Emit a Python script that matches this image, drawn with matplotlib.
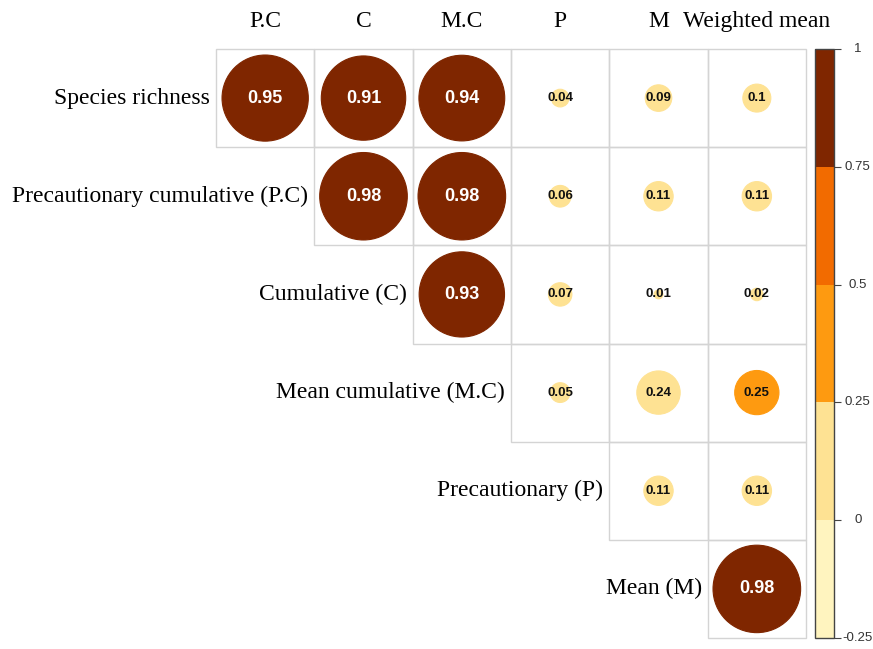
import numpy as np
import matplotlib
matplotlib.use("Agg")
import matplotlib.pyplot as plt
from matplotlib.patches import Circle, Rectangle
from matplotlib.colors import ListedColormap, BoundaryNorm
from matplotlib.cm import ScalarMappable

# Row / column names of the upper-triangle correlation plot
row_labels = ["Species richness", "Precautionary cumulative (P.C)", "Cumulative (C)",
              "Mean cumulative (M.C)", "Precautionary (P)", "Mean (M)"]
col_labels = ["P.C", "C", "M.C", "P", "M", "Weighted mean"]

# correlations, row i starts at column i
corr_rows = [
    [0.95, 0.91, 0.94, 0.04, 0.09, 0.10],
    [0.98, 0.98, 0.06, 0.11, 0.11],
    [0.93, 0.07, 0.01, 0.02],
    [0.05, 0.24, 0.25],
    [0.11, 0.11],
    [0.98],
]

# colour legend bins
bin_edges = [-0.25, 0, 0.25, 0.5, 0.75, 1]
bin_colors = ["#FFF4BF", "#FEE293", "#FE9A10", "#F26B00", "#7F2600"]
tick_labels = ["-0.25", "0", "0.25", "0.5", "0.75", "1"]

W, H = 873, 649
fig = plt.figure(figsize=(W / 100, H / 100), dpi=100)

# main grid area in pixels: x 216..806, y 49..638
ax = fig.add_axes([216 / W, (H - 638) / H, 590 / W, 589 / H])
ax.set_xlim(0, 6)
ax.set_ylim(6, 0)
ax.axis("off")

cmap = ListedColormap(bin_colors)
norm = BoundaryNorm(bin_edges, cmap.N)

for i, row in enumerate(corr_rows):
    for k, r in enumerate(row):
        j = i + k
        ax.add_patch(Rectangle((j, i), 1, 1, facecolor="none", edgecolor="#D4D4D4",
                               lw=1, clip_on=False))
        col = cmap(norm(r))
        ax.add_patch(Circle((j + 0.5, i + 0.5), 0.45 * np.sqrt(abs(r)),
                            facecolor=col, edgecolor=col, lw=0.8))
        dark = r >= 0.75
        ax.text(j + 0.5, i + 0.5, f"{r:g}", ha="center", va="center",
                family="Liberation Sans", fontweight="bold",
                fontsize=13 if dark else 9.5,
                color="white" if dark else "#111111")

serif = "Liberation Serif"
for i, lab in enumerate(row_labels):
    ax.text(i - 0.06, i + 0.5, lab, ha="right", va="center", family=serif,
            fontsize=17, color="black", clip_on=False)
for j, lab in enumerate(col_labels):
    ax.text(j + 0.5, -0.22, lab, ha="center", va="baseline", family=serif,
            fontsize=17, color="black", clip_on=False)

# colour legend
cax = fig.add_axes([815 / W, (H - 638) / H, 19 / W, 589 / H])
sm = ScalarMappable(norm=norm, cmap=cmap)
cb = fig.colorbar(sm, cax=cax, ticks=bin_edges, boundaries=bin_edges,
                  spacing="proportional")
cb.outline.set_edgecolor("#444444")
cb.outline.set_linewidth(1)
cb.ax.tick_params(length=5, width=0.8, color="#444444", labelright=False)
for v, lab in zip(bin_edges, tick_labels):
    cb.ax.text(2.25, v, lab, ha="center", va="center", fontsize=9.5,
               family="Liberation Sans", color="#333333",
               transform=cb.ax.get_yaxis_transform(), clip_on=False)

fig.savefig("out.png", dpi=100)
